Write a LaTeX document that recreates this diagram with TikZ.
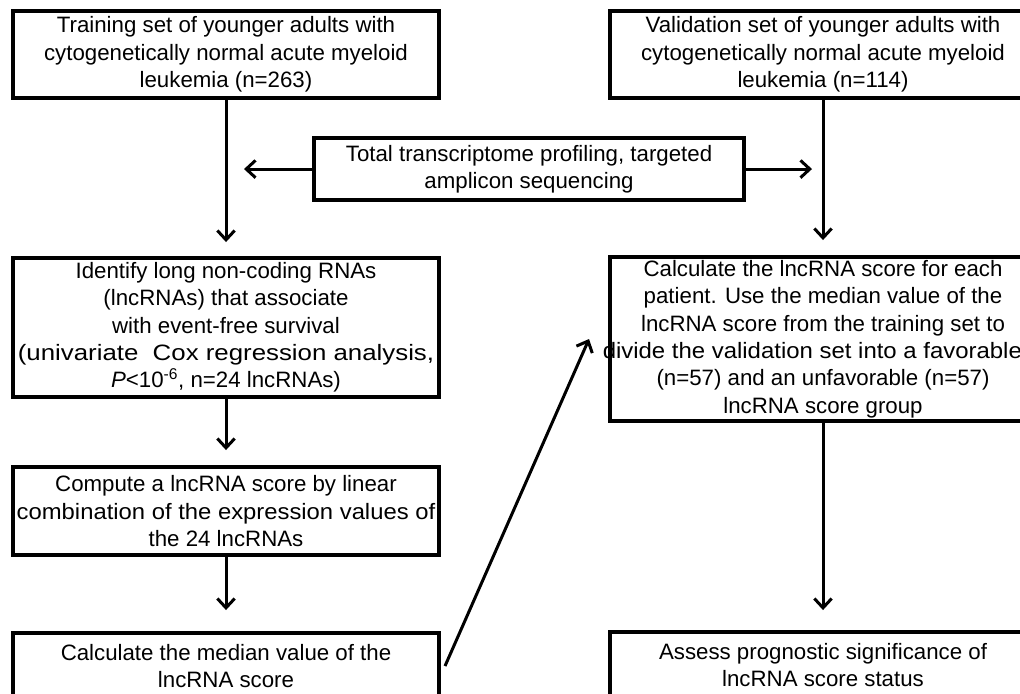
\documentclass[tikz,border=0pt]{standalone}
\usepackage{fontspec}
\setmainfont{Liberation Sans}
\usetikzlibrary{calc,positioning,arrows.meta}

\begin{document}
\begin{tikzpicture}
[node distance = 1cm, auto,
every node/.style={font=\fontsize{16.7pt}{20.5pt}\selectfont},
stepbox/.style={rectangle, draw=black, line width=3pt, align=center,
minimum width=319.5pt, inner sep=2pt},
link/.style={-{Straight Barb[length=7pt,width=13pt]}, line width=2.25pt}]

\useasboundingbox (0,0) rectangle (765pt,-519.75pt);

% Draw steps
\node [stepbox, minimum height=65.25pt] (train) at (169.5pt,-40.9pt)
{Training set of younger adults with\\cytogenetically normal acute myeloid\\leukemia (n=263)};
\node [stepbox, minimum height=65.25pt, right=125.25pt of train] (valid)
{Validation set of younger adults with\\cytogenetically normal acute myeloid\\leukemia (n=114)};
\coordinate (mid) at ($(train.south)!0.5!(valid.south)$);
\node [stepbox, minimum width=322.5pt, minimum height=46.5pt, below=27pt of mid, xshift=3.4pt] (profil)
{Total transcriptome profiling, targeted\\amplicon sequencing};
\node [stepbox, minimum height=104.25pt, below=117pt of train] (ident)
{Identify long non-coding RNAs\\(lncRNAs) that associate\\with event-free survival\\\makebox[0pt]{\scalebox{1.16}[1]{(univariate\ \ Cox regression analysis,}}\\\textit{P}<10\textsuperscript{-6}, n=24 lncRNAs)};
\node [stepbox, minimum height=66pt, below=49.5pt of ident] (compute)
{Compute a lncRNA score by linear\\\makebox[0pt]{\scalebox{1.07}[1]{combination of the expression values of}}\\the 24 lncRNAs};
\node [stepbox, minimum height=49.5pt, below=55.5pt of compute] (median)
{Calculate the median value of the\\lncRNA score};
\node [stepbox, minimum height=123pt, below=116.25pt of valid] (score)
{Calculate the lncRNA score for each\\patient. Use the median value of the\\lncRNA score from the training set to\\\makebox[0pt]{\scalebox{1.075}[1]{divide the validation set into a favorable}\rule{16pt}{0pt}}\\(n=57) and an unfavorable (n=57)\\lncRNA score group};
\node [stepbox, minimum height=49.5pt, below=155.25pt of score] (assess)
{Assess prognostic significance of\\lncRNA score status};
\coordinate (tip) at ([xshift=-14.25pt]score.west);

% Draw links
\path[link]
(train) edge[shorten >=10.5pt] (ident)
(ident) edge[shorten >=11.25pt] (compute)
(compute) edge[shorten >=15.75pt] (median)
(valid) edge[shorten >=11.25pt] (score)
(score) edge[shorten >=15pt] (assess)
(profil.west) edge[shorten >=13.5pt] (profil.west -| train.south)
(profil.east) edge[shorten >=8.25pt] (profil.east -| valid.south)
([xshift=3pt]median.east) edge (tip);

\end{tikzpicture}
\end{document}
